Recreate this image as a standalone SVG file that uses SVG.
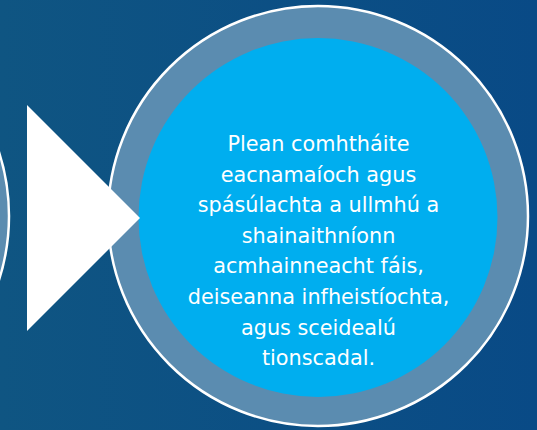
<svg xmlns="http://www.w3.org/2000/svg" width="537" height="430" viewBox="0 0 537 430">
<defs>
<linearGradient id="bg" x1="0" y1="0" x2="1" y2="0">
<stop offset="0" stop-color="#0f5582"/>
<stop offset="1" stop-color="#094a86"/>
</linearGradient>
<style>
.outer{fill:#5b8cb0;stroke:#ffffff;stroke-width:2.5}
.inner{fill:#00aeef}
.t{font-family:"DejaVu Sans",Verdana,sans-serif;font-size:20.8px;fill:#ffffff;text-anchor:middle}
</style>
</defs>
<rect width="537" height="430" fill="url(#bg)"/>
<g id="prev-node">
<circle class="outer" cx="-201" cy="216" r="210"/>
</g>
<g id="main-node">
<circle class="outer" cx="318" cy="216" r="210"/>
<circle class="inner" cx="318" cy="217.5" r="179.5"/>
<text class="t" x="318.5" y="151">Plean comhtháite</text>
<text class="t" x="318.5" y="181.6">eacnamaíoch agus</text>
<text class="t" x="318.5" y="212.2">spásúlachta a ullmhú a</text>
<text class="t" x="318.5" y="242.8">shainaithníonn</text>
<text class="t" x="318.5" y="273.4">acmhainneacht fáis,</text>
<text class="t" x="318.5" y="304">deiseanna infheistíochta,</text>
<text class="t" x="318.5" y="334.6">agus sceidealú</text>
<text class="t" x="318.5" y="365.2">tionscadal.</text>
</g>
<g id="connectors">
<polygon points="27,105 140,218 27,331" fill="#ffffff"/>
</g>
</svg>
